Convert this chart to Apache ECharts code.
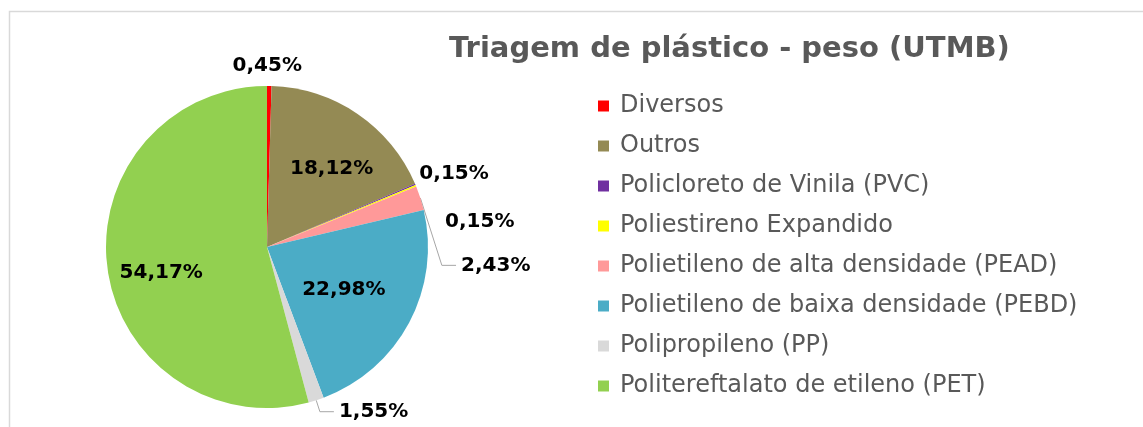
<!DOCTYPE html>
<html>
<head>
<meta charset="utf-8">
<script src="https://cdn.jsdelivr.net/npm/echarts@6/dist/echarts.min.js"></script>
<style>
  html, body { margin: 0; padding: 0; background: #fff; }
  #main { width: 1143px; height: 427px; }
</style>
</head>
<body>
<div id="main"></div>
<script>
// categorias e valores (% do peso)
var categorias = [
    'Diversos',
    'Outros',
    'Policloreto de Vinila (PVC)',
    'Poliestireno Expandido',
    'Polietileno de alta densidade (PEAD)',
    'Polietileno de baixa densidade (PEBD)',
    'Polipropileno (PP)',
    'Politereftalato de etileno (PET)'
];
var valores = [0.45, 18.12, 0.15, 0.15, 2.43, 22.98, 1.55, 54.17];
var cores = ['#FF0000', '#948A54', '#7030A0', '#FFFF00', '#FF9999', '#4BACC6', '#D9D9D9', '#92D050'];

var centro = [267, 247];
// rótulos internos: afastamento radial e pequeno ajuste
var interno = {
    1: { k: 1.27, dx: 5, dy: 9 },
    5: { k: 1.07, dx: -2, dy: 1 },
    7: { k: 1.35, dx: 6, dy: 11 }
};
// rótulos externos: linha guia e altura da caixa (espaçamento entre eles)
var guia = {
    0: { show: false, length: 6, length2: 0, lh: 24, linhas: 1 },
    2: { show: false, length: 4, length2: 0, lh: 19, linhas: 2 },
    3: { show: false, length: 4, length2: 15, lh: 34, linhas: 1 },
    4: { show: true, length: 12, length2: 22, lh: 50, linhas: 1 },
    6: { show: true, length: 12, length2: 14, lh: 24, linhas: 1 }
};

function fmt(v) {
    return v.toFixed(2).replace('.', ',') + '%';
}

var myChart = echarts.init(document.getElementById('main'));

var dados = categorias.map(function (nome, i) {
    var item = {
        name: nome,
        value: valores[i],
        itemStyle: { color: cores[i] }
    };
    if (interno[i]) {
        item.label = { position: 'inside' };
        item.labelLine = { show: false };
    } else {
        var g = guia[i];
        item.label = { position: 'outside', lineHeight: g.lh };
        if (g.linhas === 2) {
            // linha vazia embaixo: sobe o texto dentro da caixa
            item.label.formatter = function (p) { return fmt(p.value) + '\n '; };
        }
        item.labelLine = { show: g.show, length: g.length, length2: g.length2 };
    }
    return item;
});

var option = {
    animation: false,
    graphic: [{
        type: 'rect',
        shape: { x: 9.5, y: 11.5, width: 1300, height: 600 },
        style: { fill: 'none', stroke: '#D9D9D9', lineWidth: 1.5 },
        silent: true
    }],
    title: {
        text: 'Triagem de plástico - peso (UTMB)',
        left: 444,
        top: 30,
        textStyle: {
            fontFamily: 'DejaVu Sans',
            fontSize: 29,
            fontWeight: 'bold',
            color: '#595959'
        }
    },
    legend: {
        orient: 'vertical',
        left: 593,
        top: 89,
        itemWidth: 11,
        itemHeight: 11,
        itemGap: 16,
        icon: 'rect',
        textStyle: {
            fontFamily: 'DejaVu Sans',
            fontSize: 24,
            lineHeight: 24,
            color: '#595959',
            padding: [0, 0, 0, 6]
        },
        data: categorias
    },
    series: [{
        type: 'pie',
        center: centro,
        radius: 161,
        startAngle: 90,
        clockwise: true,
        label: {
            show: true,
            formatter: function (p) {
                return fmt(p.value);
            },
            fontFamily: 'DejaVu Sans',
            fontWeight: 'bold',
            fontSize: 20,
            color: '#000'
        },
        labelLine: {
            lineStyle: { color: '#A6A6A6', width: 1 }
        },
        labelLayout: function (params) {
            var i = params.dataIndex;
            var lr = params.labelRect;
            var cx = lr.x + lr.width / 2;
            var cy = lr.y + lr.height / 2;
            if (interno[i]) {
                var a = interno[i];
                return {
                    x: centro[0] + (cx - centro[0]) * a.k + a.dx,
                    y: centro[1] + (cy - centro[1]) * a.k + a.dy,
                    align: 'center',
                    verticalAlign: 'middle'
                };
            }
            if (i === 0) {
                // fatia fina no topo: rótulo centrado acima dela
                var r = params.rect;
                return {
                    x: r.x + r.width / 2 - 2,
                    y: r.y - 8,
                    align: 'center',
                    verticalAlign: 'bottom'
                };
            }
            return {};
        },
        itemStyle: { borderWidth: 0 },
        data: dados
    }]
};
myChart.setOption(option);
</script>
</body>
</html>
